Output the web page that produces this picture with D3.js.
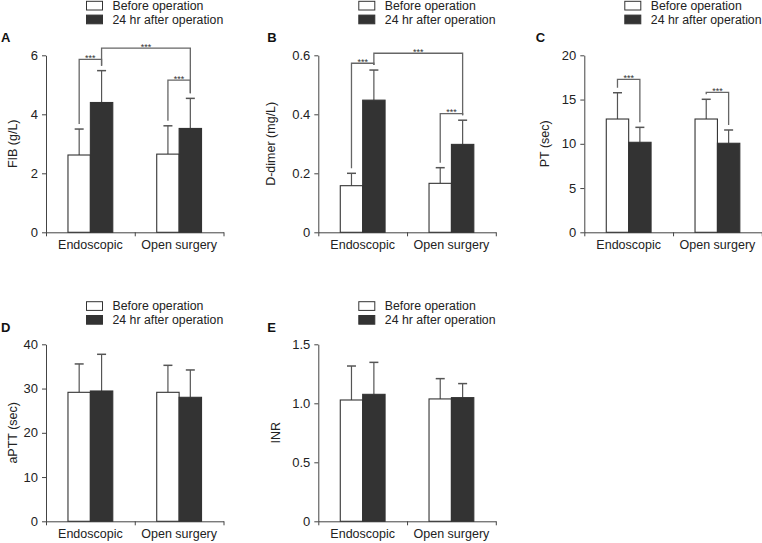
<!DOCTYPE html>
<html><head><meta charset="utf-8">
<script src="https://cdn.jsdelivr.net/npm/d3@7"></script>
<style>body{margin:0;background:#fff} svg{display:block;font-family:"Liberation Sans",Arial,sans-serif}</style>
</head><body>
<svg id="chart" width="762" height="543"></svg>
<script>
// ---- data ----
const categories = ["Endoscopic", "Open surgery"];
const seriesNames = ["Before operation", "24 hr after operation"];

const fibBefore = [2.62, 2.65],   fibBeforeSD = [0.88, 0.96];
const fibAfter  = [4.40, 3.52],   fibAfterSD  = [1.08, 1.02];
const fibTicks  = [0, 2, 4, 6];
const fibTickLabels = ["0", "2", "4", "6"];
const fibBrackets = [[0,0,0,1,5.86],[0,1,1,1,6.24],[1,0,1,1,5.16]];

const ddBefore = [0.158, 0.166],  ddBeforeSD = [0.042, 0.053];
const ddAfter  = [0.448, 0.298],  ddAfterSD  = [0.102, 0.082];
const ddTicks  = [0, 0.2, 0.4, 0.6];
const ddTickLabels = ["0", "0.2", "0.4", "0.6"];
const ddBrackets = [[0,0,0,1,0.573],[0,1,1,1,0.607],[1,0,1,1,0.402]];

const ptBefore = [12.8, 12.8],    ptBeforeSD = [2.97, 2.23];
const ptAfter  = [10.17, 10.06],  ptAfterSD  = [1.69, 1.50];
const ptTicks  = [0, 5, 10, 15, 20];
const ptTickLabels = ["0", "5", "10", "15", "20"];
const ptBrackets = [[0,0,0,1,17.29],[1,0,1,1,15.82]];

const apttBefore = [29.15, 29.15], apttBeforeSD = [6.41, 6.10];
const apttAfter  = [29.45, 28.02], apttAfterSD  = [8.29, 6.18];
const apttTicks  = [0, 10, 20, 30, 40];
const apttTickLabels = ["0", "10", "20", "30", "40"];

const inrBefore = [1.028, 1.037], inrBeforeSD = [0.288, 0.172];
const inrAfter  = [1.076, 1.048], inrAfterSD  = [0.271, 0.119];
const inrTicks  = [0, 0.5, 1.0, 1.5];
const inrTickLabels = ["0", "0.5", "1.0", "1.5"];

const sigLabel = "***";

// ---- panels ----
const panels = [
  {label:"A", title:"FIB (g/L)", before:fibBefore, bSD:fibBeforeSD, after:fibAfter, aSD:fibAfterSD, ticks:fibTicks, tl:fibTickLabels, br:fibBrackets, x0:46, top:55.3, legY:1.3, labY:42.3, labX:1, titleX:17},
  {label:"B", title:"D-dimer (mg/L)", before:ddBefore, bSD:ddBeforeSD, after:ddAfter, aSD:ddAfterSD, ticks:ddTicks, tl:ddTickLabels, br:ddBrackets, x0:318.3, top:55.3, legY:1.3, labY:42.3, labX:267.3, titleX:275},
  {label:"C", title:"PT (sec)", before:ptBefore, bSD:ptBeforeSD, after:ptAfter, aSD:ptAfterSD, ticks:ptTicks, tl:ptTickLabels, br:ptBrackets, x0:584.3, top:55.3, legY:1.3, labY:42.3, labX:535.7, titleX:549.2},
  {label:"D", title:"aPTT (sec)", before:apttBefore, bSD:apttBeforeSD, after:apttAfter, aSD:apttAfterSD, ticks:apttTicks, tl:apttTickLabels, br:[], x0:46, top:344.3, legY:301.7, labY:332.3, labX:1, titleX:16.5},
  {label:"E", title:"INR", before:inrBefore, bSD:inrBeforeSD, after:inrAfter, aSD:inrAfterSD, ticks:inrTicks, tl:inrTickLabels, br:[], x0:318.3, top:344.3, legY:301.7, labY:332.3, labX:267.3, titleX:279.5}
];

const svg = d3.select("#chart");
const W = 177.5, H = 177, BW = 22.4;
const axisColor = "#444", errColor = "#555", brColor = "#666";
const fills = ["#ffffff", "#333333"];

panels.forEach(p => {
  const g = svg.append("g");
  const bottom = p.top + H;
  const y = d3.scaleLinear().domain([0, p.ticks[p.ticks.length-1]]).range([bottom, p.top]);
  const xb = d3.scaleBand().domain(categories).range([p.x0, p.x0 + W]);
  const xs = d3.scaleBand().domain([0,1]).range([-BW, BW]);
  const cx = (gi, si) => xb(categories[gi]) + xb.bandwidth()/2 + xs(si) + BW/2;

  // y axis
  const ya = g.append("g").attr("transform", `translate(${p.x0},0)`)
    .call(d3.axisLeft(y).tickValues(p.ticks).tickFormat((d,i)=>p.tl[i]).tickSize(4).tickPadding(4).tickSizeOuter(0));
  ya.selectAll("path,line").attr("stroke", axisColor);
  ya.selectAll("text").attr("font-size", 13).attr("fill", "#222").attr("font-family", "Liberation Sans, Arial, sans-serif");

  // x axis boundary ticks
  const xl = d3.scaleLinear().domain([0, 2]).range([p.x0, p.x0 + W]);
  const xa = g.append("g").attr("transform", `translate(0,${bottom})`)
    .call(d3.axisBottom(xl).tickValues([0,1,2]).tickFormat("").tickSize(4).tickSizeOuter(0));
  xa.selectAll("path,line").attr("stroke", axisColor);
  const xc = g.append("g").attr("transform", `translate(0,${bottom})`)
    .call(d3.axisBottom(xb).tickSize(0).tickPadding(8));
  xc.select(".domain").remove();
  xc.selectAll("text").attr("font-size", 12.5).attr("fill", "#222").attr("font-family", "Liberation Sans, Arial, sans-serif");

  // bars
  const rows = [];
  categories.forEach((c, gi) => {
    rows.push({gi, si:0, v:p.before[gi], sd:p.bSD[gi]});
    rows.push({gi, si:1, v:p.after[gi], sd:p.aSD[gi]});
  });
  rows.forEach(r => {
    const x = cx(r.gi, r.si);
    g.append("line").attr("x1", x).attr("x2", x).attr("y1", y(r.v)).attr("y2", y(r.v + r.sd))
      .attr("stroke", errColor).attr("stroke-width", 1.2);
    g.append("line").attr("x1", x-4.5).attr("x2", x+4.5).attr("y1", y(r.v + r.sd)).attr("y2", y(r.v + r.sd))
      .attr("stroke", errColor).attr("stroke-width", 1.5);
  });
  g.selectAll("rect.bar").data(rows).join("rect").attr("class","bar")
    .attr("x", d => cx(d.gi, d.si) - BW/2)
    .attr("width", BW)
    .attr("y", d => y(d.v))
    .attr("height", d => bottom - y(d.v))
    .attr("fill", d => fills[d.si])
    .attr("stroke", "#333").attr("stroke-width", 1.1);

  // significance brackets
  p.br.forEach(b => {
    const [g1, s1, g2, s2, lvl] = b;
    const x1 = cx(g1, s1), x2 = cx(g2, s2);
    const v1 = (s1 ? p.after : p.before)[g1] + (s1 ? p.aSD : p.bSD)[g1];
    const v2 = (s2 ? p.after : p.before)[g2] + (s2 ? p.aSD : p.bSD)[g2];
    const yl = y(lvl);
    g.append("path")
      .attr("d", `M${x1},${y(v1)-5}V${yl}H${x2}V${y(v2)-5}`)
      .attr("fill","none").attr("stroke", brColor).attr("stroke-width", 1.3);
    g.append("text").attr("x", (x1+x2)/2).attr("y", yl + 1.5).attr("text-anchor","middle")
      .attr("font-size", 9).attr("fill", "#333").text(sigLabel);
  });

  // y title
  g.append("text")
    .attr("transform", `translate(${p.titleX},${(p.top+bottom)/2}) rotate(-90)`)
    .attr("text-anchor","middle").attr("font-size", 12.5).attr("fill","#222").text(p.title);

  // panel label
  g.append("text").attr("x", p.labX)
    .attr("y", p.labY).attr("font-size", 13).attr("font-weight","bold").attr("fill","#111").text(p.label);

  // legend
  seriesNames.forEach((s, i) => {
    const ly = p.legY + i*13.8;
    g.append("rect").attr("x", p.x0 + 40.5).attr("y", ly).attr("width", 16).attr("height", 8.7)
      .attr("fill", fills[i]).attr("stroke", "#333").attr("stroke-width", 1);
    g.append("text").attr("x", p.x0 + 66.5).attr("y", ly + 8.4).attr("font-size", 12.3).attr("fill","#222").text(s);
  });
});
</script>
</body></html>
